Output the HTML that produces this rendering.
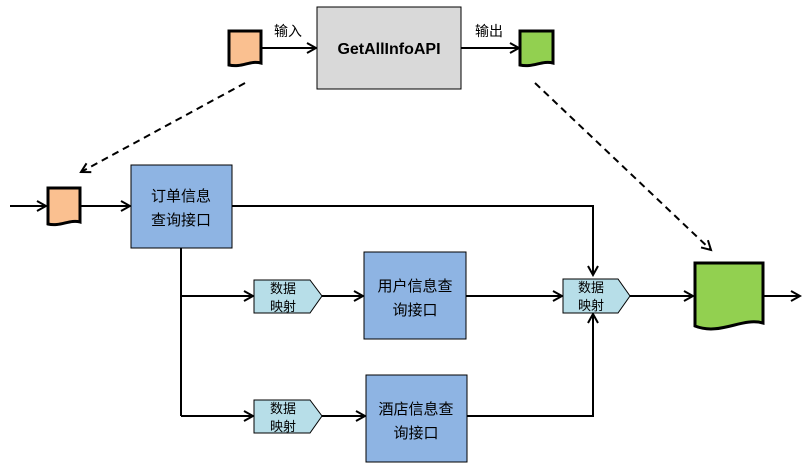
<!DOCTYPE html>
<html><head><meta charset="utf-8"><style>body{margin:0;background:#fff}svg{display:block}text{font-family:"Liberation Sans","Noto Sans CJK SC",sans-serif}</style></head><body>
<svg width="803" height="466" viewBox="0 0 803 466" xmlns="http://www.w3.org/2000/svg">
<defs>
<marker id="a" markerWidth="12" markerHeight="12" refX="10" refY="6" orient="auto" markerUnits="userSpaceOnUse"><path d="M1,1 L10,6 L1,11" fill="none" stroke="#000" stroke-width="2"/></marker>
</defs>
<g stroke="#000" stroke-width="2" fill="none">
<line x1="262" y1="48" x2="316" y2="48" marker-end="url(#a)"/>
<line x1="461" y1="48" x2="519" y2="48" marker-end="url(#a)"/>
<line x1="245" y1="83" x2="81" y2="172" stroke-dasharray="7,5" marker-end="url(#a)"/>
<line x1="535" y1="83" x2="711" y2="250" stroke-dasharray="7,5" marker-end="url(#a)"/>
<line x1="10" y1="206" x2="46" y2="206" marker-end="url(#a)"/>
<line x1="80" y1="206" x2="130" y2="206" marker-end="url(#a)"/>
<polyline points="232,206 593,206 593,275" marker-end="url(#a)"/>
<line x1="181" y1="248" x2="181" y2="416"/>
<line x1="181" y1="296" x2="253" y2="296" marker-end="url(#a)"/>
<line x1="181" y1="416" x2="253" y2="416" marker-end="url(#a)"/>
<line x1="322" y1="296" x2="363" y2="296" marker-end="url(#a)"/>
<line x1="322" y1="416" x2="365" y2="416" marker-end="url(#a)"/>
<line x1="466" y1="296" x2="562" y2="296" marker-end="url(#a)"/>
<polyline points="467,416 593,416 593,314" marker-end="url(#a)"/>
<line x1="630" y1="296" x2="693" y2="296" marker-end="url(#a)"/>
<line x1="763" y1="296" x2="800" y2="296" marker-end="url(#a)"/>
</g>
<g stroke="#000" stroke-width="3">
<path d="M229,31 H261 V63 C250,60 242,68 229,65 Z" fill="#fac090"/>
<path d="M520,31 H553 V63 C542,60 533,68 520,65 Z" fill="#92d050"/>
<path d="M48,188 H80 V222 C70,219 60,227 48,224 Z" fill="#fac090"/>
<path d="M695,263 H763 V323 C742,317 720,336 695,326 Z" fill="#92d050"/>
</g>
<g stroke="#000" stroke-width="1">
<rect x="317" y="7" width="144" height="82" fill="#d9d9d9"/>
<rect x="131" y="165" width="101" height="83" fill="#8eb4e3"/>
<rect x="364" y="252" width="102" height="87" fill="#8eb4e3"/>
<rect x="366" y="375" width="101" height="87" fill="#8eb4e3"/>
<path d="M254,280 H310 L322,296 L310,313 H254 Z" fill="#b7dee8"/>
<path d="M563,279 H618 L630,296 L618,313 H563 Z" fill="#b7dee8"/>
<path d="M254,400 H310 L322,416 L310,433 H254 Z" fill="#b7dee8"/>
</g>
<text x="389" y="54" font-size="16" font-weight="bold" text-anchor="middle">GetAllInfoAPI</text>
<text x="288" y="36" font-size="14" text-anchor="middle">输入</text>
<text x="489" y="36" font-size="14" text-anchor="middle">输出</text>
<g font-size="15" text-anchor="middle">
<text x="181" y="201">订单信息</text><text x="181" y="225">查询接口</text>
<text x="415" y="291">用户信息查</text><text x="415" y="315">询接口</text>
<text x="416" y="414">酒店信息查</text><text x="416" y="438">询接口</text>
</g>
<g font-size="13" text-anchor="middle">
<text x="283" y="293">数据</text><text x="283" y="311">映射</text>
<text x="591" y="292">数据</text><text x="591" y="310">映射</text>
<text x="283" y="413">数据</text><text x="283" y="431">映射</text>
</g>
</svg>
</body></html>
